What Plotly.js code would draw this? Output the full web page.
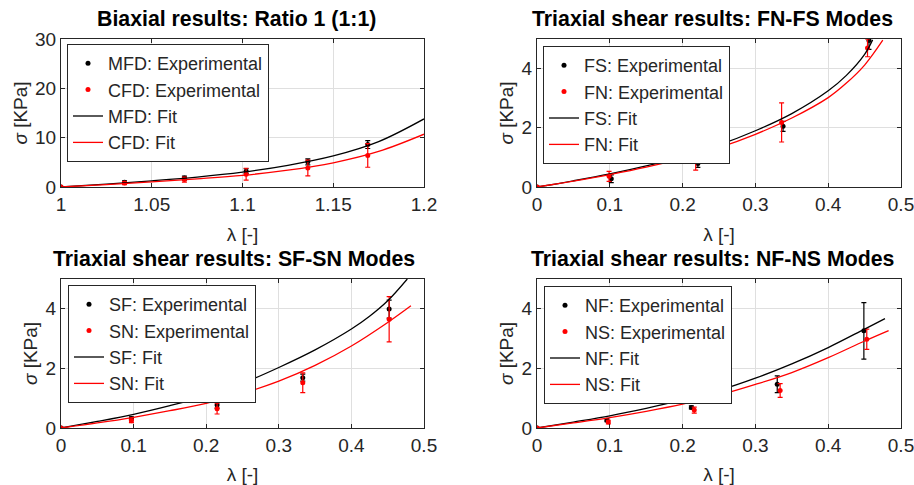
<!DOCTYPE html>
<html>
<head>
<meta charset="utf-8">
<script src="https://cdn.plot.ly/plotly-3.0.1.min.js"></script>
<style>html,body{margin:0;padding:0;background:#fff;}#chart{width:914px;height:485px;}</style>
</head>
<body>
<div id="chart"></div>
<script>
// ---------- Biaxial (subplot 1) ----------
const biaxX = [1, 1.035, 1.068, 1.102, 1.136, 1.169];
const mfdExp = [0, 0.95, 1.8, 3.2, 5.1, 8.6];
const mfdErr = [0.1, 0.3, 0.4, 0.5, 0.6, 0.8];
const cfdExp = [0, 0.8, 1.5, 2.6, 3.85, 6.4];
const cfdErr = [0.1, 0.3, 0.5, 1.2, 1.6, 2.4];
const biaxFitX = [1, 1.025, 1.05, 1.075, 1.1, 1.125, 1.15, 1.175, 1.2];
const mfdFit = [0, 0.6, 1.25, 2.0, 3.0, 4.4, 6.3, 9.2, 13.8];
const cfdFit = [0, 0.5, 1.05, 1.65, 2.35, 3.4, 4.9, 7.2, 10.7];

// ---------- FN-FS (subplot 2) ----------
const fsX = [0, 0.102, 0.221, 0.338, 0.456];
const fsExp = [0, 0.28, 0.79, 2.05, 4.95];
const fsErr = [0.02, 0.13, 0.13, 0.17, 0.3];
const fnX = [0, 0.099, 0.218, 0.336, 0.454];
const fnExp = [0, 0.36, 1.01, 2.18, 4.7];
const fnErr = [0.02, 0.17, 0.44, 0.66, 0.3];
const fsFitX = [0, 0.05, 0.1, 0.15, 0.2, 0.25, 0.3, 0.35, 0.4, 0.425, 0.45, 0.461];
const fsFit = [0, 0.21, 0.44, 0.71, 1.03, 1.42, 1.9, 2.48, 3.25, 3.77, 4.48, 4.97];
const fnFitX = [0, 0.05, 0.1, 0.15, 0.2, 0.25, 0.3, 0.35, 0.4, 0.425, 0.45, 0.475];
const fnFit = [0, 0.2, 0.42, 0.67, 0.97, 1.33, 1.78, 2.33, 3.02, 3.51, 4.12, 4.96];

// ---------- SF-SN (subplot 3) ----------
const sfX = [0, 0.097, 0.215, 0.333, 0.452];
const sfExp = [0, 0.32, 0.77, 1.69, 3.99];
const sfErr = [0.02, 0.05, 0.1, 0.12, 0.3];
const snX = [0, 0.097, 0.215, 0.333, 0.452];
const snExp = [0, 0.24, 0.65, 1.52, 3.65];
const snErr = [0.02, 0.06, 0.18, 0.33, 0.76];
const sfFitX = [0, 0.05, 0.1, 0.15, 0.2, 0.25, 0.3, 0.35, 0.4, 0.425, 0.45, 0.477];
const sfFit = [0, 0.22, 0.46, 0.75, 1.08, 1.5, 2.03, 2.62, 3.32, 3.75, 4.27, 5.0];
const snFitX = [0, 0.05, 0.1, 0.15, 0.2, 0.25, 0.3, 0.35, 0.4, 0.45, 0.482];
const snFit = [0, 0.17, 0.36, 0.58, 0.83, 1.16, 1.57, 2.1, 2.75, 3.54, 4.1];

// ---------- NF-NS (subplot 4) ----------
const nfX = [0, 0.096, 0.212, 0.33, 0.449];
const nfExp = [0, 0.26, 0.69, 1.47, 3.26];
const nfErr = [0.02, 0.05, 0.05, 0.28, 0.95];
const nsX = [0, 0.098, 0.216, 0.334, 0.453];
const nsExp = [0, 0.2, 0.6, 1.26, 2.98];
const nsErr = [0.02, 0.06, 0.1, 0.23, 0.34];
const nfFitX = [0, 0.05, 0.1, 0.15, 0.2, 0.25, 0.3, 0.35, 0.4, 0.45, 0.478];
const nfFit = [0, 0.2, 0.41, 0.66, 0.94, 1.26, 1.67, 2.15, 2.7, 3.32, 3.67];
const nsFitX = [0, 0.05, 0.1, 0.15, 0.2, 0.25, 0.3, 0.35, 0.4, 0.45, 0.483];
const nsFit = [0, 0.17, 0.35, 0.56, 0.8, 1.1, 1.46, 1.86, 2.36, 2.92, 3.27];

const titles = ["Biaxial results: Ratio 1 (1:1)", "Triaxial shear results: FN-FS Modes",
                "Triaxial shear results: SF-SN Modes", "Triaxial shear results: NF-NS Modes"];

const BLACK = '#000000', RED = '#ff0000';
const FONT = 'Arial, "Liberation Sans", sans-serif';

function expTrace(x, y, err, color, name, ax, leg) {
  return {
    type: 'scatter', mode: 'markers', x: x, y: y, name: name,
    xaxis: 'x' + ax, yaxis: 'y' + ax, legend: leg,
    marker: {color: color, size: 5, symbol: 'circle'},
    error_y: {type: 'data', array: err, visible: true, color: color, thickness: 1.2, width: 2.5}
  };
}
function fitTrace(x, y, color, name, ax, leg) {
  return {
    type: 'scatter', mode: 'lines', x: x, y: y, name: name,
    xaxis: 'x' + ax, yaxis: 'y' + ax, legend: leg,
    line: {color: color, width: 1.3, shape: 'spline', smoothing: 1}
  };
}

const data = [
  expTrace(biaxX, mfdExp, mfdErr, BLACK, 'MFD: Experimental', '', 'legend'),
  expTrace(biaxX, cfdExp, cfdErr, RED, 'CFD: Experimental', '', 'legend'),
  fitTrace(biaxFitX, mfdFit, BLACK, 'MFD: Fit', '', 'legend'),
  fitTrace(biaxFitX, cfdFit, RED, 'CFD: Fit', '', 'legend'),

  expTrace(fsX, fsExp, fsErr, BLACK, 'FS: Experimental', '2', 'legend2'),
  expTrace(fnX, fnExp, fnErr, RED, 'FN: Experimental', '2', 'legend2'),
  fitTrace(fsFitX, fsFit, BLACK, 'FS: Fit', '2', 'legend2'),
  fitTrace(fnFitX, fnFit, RED, 'FN: Fit', '2', 'legend2'),

  expTrace(sfX, sfExp, sfErr, BLACK, 'SF: Experimental', '3', 'legend3'),
  expTrace(snX, snExp, snErr, RED, 'SN: Experimental', '3', 'legend3'),
  fitTrace(sfFitX, sfFit, BLACK, 'SF: Fit', '3', 'legend3'),
  fitTrace(snFitX, snFit, RED, 'SN: Fit', '3', 'legend3'),

  expTrace(nfX, nfExp, nfErr, BLACK, 'NF: Experimental', '4', 'legend4'),
  expTrace(nsX, nsExp, nsErr, RED, 'NS: Experimental', '4', 'legend4'),
  fitTrace(nfFitX, nfFit, BLACK, 'NF: Fit', '4', 'legend4'),
  fitTrace(nsFitX, nsFit, RED, 'NS: Fit', '4', 'legend4')
];

const W = 914, H = 485;
const px = v => v / W, py = v => 1 - v / H;

function xax(domain, range, dtick, anchor) {
  return {
    domain: domain, range: range, dtick: dtick, anchor: anchor,
    showline: true, mirror: 'ticks', linecolor: '#262626', linewidth: 1,
    ticks: 'inside', ticklen: 4, tickcolor: '#262626',
    showgrid: true, gridcolor: '#dfdfdf', gridwidth: 1, zeroline: false,
    ticklabeloverflow: 'allow',
    tickfont: {family: FONT, size: 19, color: '#262626'},
    title: {text: 'λ [-]', font: {family: FONT, size: 19, color: '#262626'}, standoff: 13}
  };
}
function yax(domain, range, dtick, anchor) {
  return {
    domain: domain, range: range, dtick: dtick, anchor: anchor,
    showline: true, mirror: 'ticks', linecolor: '#262626', linewidth: 1,
    ticks: 'inside', ticklen: 4, tickcolor: '#262626',
    showgrid: true, gridcolor: '#dfdfdf', gridwidth: 1, zeroline: false,
    ticklabeloverflow: 'allow',
    tickfont: {family: FONT, size: 19, color: '#262626'},
    title: {text: '<i>σ</i> [KPa]', font: {family: FONT, size: 19, color: '#262626'}, standoff: 2}
  };
}
function leg(x, y) {
  return {
    x: x, y: y, xanchor: 'left', yanchor: 'top', xref: 'paper', yref: 'paper',
    bgcolor: '#ffffff', bordercolor: '#262626', borderwidth: 1,
    font: {family: FONT, size: 18, color: '#262626'},
    itemwidth: 30, tracegroupgap: 0
  };
}

const colL = [px(61), px(424)], colR = [px(537), px(901)];
const rowT = [py(187), py(39)], rowB = [py(428), py(279)];

function ttl(t, x, y) {
  return {text: '<b>' + t + '</b>', x: px(x), y: py(y), xref: 'paper', yref: 'paper',
          xanchor: 'center', yanchor: 'bottom', showarrow: false,
          font: {family: FONT, size: 21.3, color: '#000'}};
}

const layout = {
  width: W, height: H,
  margin: {l: 0, r: 0, t: 0, b: 0},
  paper_bgcolor: '#ffffff', plot_bgcolor: '#ffffff',
  font: {family: FONT, color: '#262626'},
  xaxis: xax(colL, [1, 1.2], 0.05, 'y'),
  yaxis: yax(rowT, [0, 30], 10, 'x'),
  xaxis2: xax(colR, [0, 0.5], 0.1, 'y2'),
  yaxis2: yax(rowT, [0, 5], 2, 'x2'),
  xaxis3: xax(colL, [0, 0.5], 0.1, 'y3'),
  yaxis3: yax(rowB, [0, 5], 2, 'x3'),
  xaxis4: xax(colR, [0, 0.5], 0.1, 'y4'),
  yaxis4: yax(rowB, [0, 5], 2, 'x4'),
  legend: leg(px(67), py(44)),
  legend2: leg(px(543), py(46)),
  legend3: leg(px(68), py(285)),
  legend4: leg(px(544), py(286)),
  annotations: [
    ttl(titles[0], 236, 33),
    ttl(titles[1], 712, 33),
    ttl(titles[2], 234, 273),
    ttl(titles[3], 712, 273)
  ]
};

Plotly.newPlot('chart', data, layout, {displayModeBar: false, staticPlot: true});
</script>
</body>
</html>
